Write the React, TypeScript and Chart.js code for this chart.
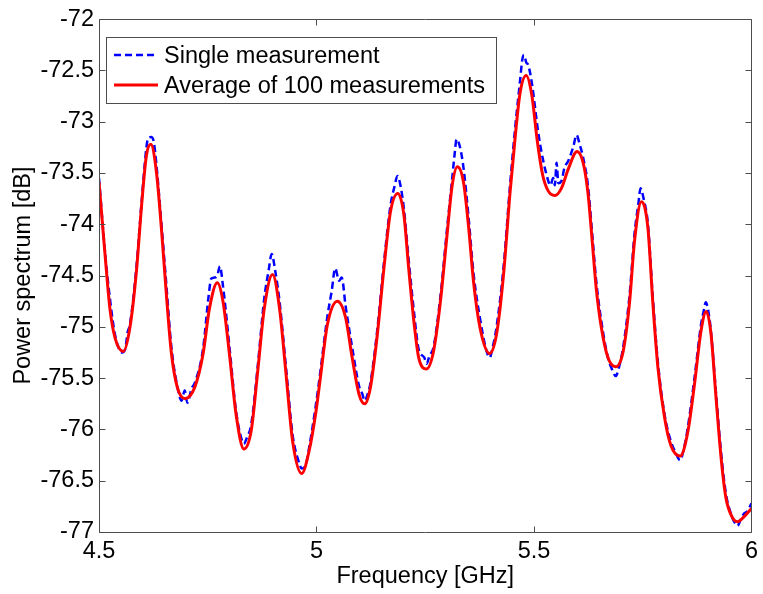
import React, { useEffect, useRef } from "react";
import { Chart, registerables } from "chart.js";

Chart.register(...registerables);

// Average of 100 measurements (red)
const avgFreq = [
  4.5, 4.514, 4.525, 4.537, 4.556, 4.571, 4.586, 4.598, 4.609, 4.619, 4.632, 4.644, 4.655, 4.666, 4.68,
  4.698, 4.72, 4.739, 4.754, 4.772, 4.785, 4.8, 4.815, 4.833, 4.85, 4.865, 4.88, 4.899, 4.915, 4.93,
  4.945, 4.966, 4.983, 4.999, 5.01, 5.025, 5.048, 5.067, 5.082, 5.098, 5.111, 5.124, 5.14, 5.155, 5.17,
  5.187, 5.201, 5.212, 5.224, 5.235, 5.253, 5.269, 5.285, 5.3, 5.312, 5.324, 5.338, 5.35, 5.361, 5.376,
  5.398, 5.414, 5.43, 5.445, 5.457, 5.468, 5.482, 5.495, 5.508, 5.52, 5.532, 5.548, 5.563, 5.579, 5.599,
  5.613, 5.624, 5.634, 5.643, 5.655, 5.67, 5.688, 5.705, 5.72, 5.731, 5.747, 5.762, 5.773, 5.785, 5.8,
  5.815, 5.836, 5.853, 5.869, 5.884, 5.896, 5.907, 5.918, 5.93, 5.941, 5.955, 5.968, 5.983, 6.0,
];
const avgPower = [
  -73.59, -74.3, -74.82, -75.11, -75.24, -75.01, -74.46, -73.81, -73.33, -73.22, -73.49, -74.07, -74.69, -75.24, -75.59,
  -75.7, -75.59, -75.27, -74.82, -74.57, -74.75, -75.27, -75.85, -76.19, -76.01, -75.43, -74.82, -74.49, -74.82, -75.46,
  -76.11, -76.43, -76.21, -75.82, -75.46, -74.98, -74.75, -74.91, -75.3, -75.66, -75.75, -75.59, -75.07, -74.43, -73.88,
  -73.7, -73.91, -74.43, -74.95, -75.3, -75.41, -75.24, -74.75, -74.11, -73.62, -73.44, -73.59, -74.04, -74.56, -75.01,
  -75.26, -75.07, -74.49, -73.69, -73.14, -72.72, -72.55, -72.74, -73.2, -73.52, -73.67, -73.72, -73.65, -73.46, -73.29,
  -73.4, -73.69, -74.17, -74.62, -75.01, -75.3, -75.39, -75.24, -74.75, -74.17, -73.78, -74.04, -74.75, -75.4, -75.88,
  -76.16, -76.26, -76.04, -75.56, -75.04, -74.85, -75.07, -75.66, -76.27, -76.66, -76.85, -76.9, -76.85, -76.77,
];

// Single measurement (blue, dashed)
const singleFreq = [
  4.5, 4.514, 4.525, 4.537, 4.553, 4.56, 4.566, 4.571, 4.586, 4.598, 4.609, 4.613, 4.62, 4.626, 4.632,
  4.644, 4.655, 4.666, 4.68, 4.69, 4.697, 4.703, 4.713, 4.72, 4.739, 4.752, 4.758, 4.765, 4.772, 4.778,
  4.785, 4.8, 4.815, 4.828, 4.833, 4.84, 4.85, 4.865, 4.88, 4.89, 4.897, 4.905, 4.915, 4.93, 4.945,
  4.958, 4.966, 4.975, 4.983, 4.999, 5.01, 5.025, 5.035, 5.043, 5.052, 5.058, 5.067, 5.082, 5.098, 5.105,
  5.111, 5.118, 5.124, 5.14, 5.155, 5.17, 5.18, 5.186, 5.193, 5.201, 5.212, 5.224, 5.235, 5.248, 5.253,
  5.26, 5.269, 5.285, 5.3, 5.312, 5.318, 5.322, 5.33, 5.338, 5.35, 5.361, 5.376, 5.39, 5.398, 5.405,
  5.414, 5.43, 5.445, 5.457, 5.468, 5.473, 5.477, 5.482, 5.487, 5.495, 5.508, 5.514, 5.529, 5.538, 5.544,
  5.548, 5.552, 5.556, 5.563, 5.57, 5.579, 5.59, 5.598, 5.605, 5.613, 5.624, 5.634, 5.643, 5.655, 5.67,
  5.68, 5.688, 5.695, 5.705, 5.72, 5.731, 5.74, 5.745, 5.752, 5.762, 5.773, 5.785, 5.8, 5.815, 5.825,
  5.836, 5.845, 5.853, 5.869, 5.884, 5.89, 5.895, 5.902, 5.907, 5.918, 5.93, 5.941, 5.955, 5.963, 5.968,
  5.975, 5.983, 5.99, 6.0,
];
const singlePower = [
  -73.55, -74.28, -74.72, -75.08, -75.25, -75.22, -75.05, -74.98, -74.42, -73.78, -73.25, -73.16, -73.15, -73.2, -73.42,
  -74.02, -74.6, -75.18, -75.58, -75.72, -75.62, -75.74, -75.6, -75.55, -75.22, -74.7, -74.53, -74.52, -74.5, -74.41,
  -74.6, -75.2, -75.82, -76.1, -76.14, -76.08, -75.95, -75.38, -74.72, -74.45, -74.29, -74.45, -74.75, -75.4, -76.05,
  -76.3, -76.38, -76.35, -76.18, -75.75, -75.4, -74.9, -74.65, -74.43, -74.55, -74.52, -74.8, -75.2, -75.58, -75.65,
  -75.72, -75.65, -75.55, -75.02, -74.38, -73.82, -73.62, -73.53, -73.62, -73.85, -74.35, -74.85, -75.22, -75.3, -75.36,
  -75.28, -75.2, -74.7, -74.05, -73.55, -73.3, -73.17, -73.25, -73.45, -73.95, -74.48, -74.92, -75.22, -75.3, -75.2,
  -75.0, -74.42, -73.62, -73.05, -72.6, -72.4, -72.35, -72.42, -72.45, -72.62, -73.05, -73.22, -73.52, -73.62, -73.55,
  -73.62, -73.4, -73.6, -73.58, -73.45, -73.38, -73.25, -73.13, -73.22, -73.35, -73.62, -74.1, -74.55, -74.95, -75.3,
  -75.42, -75.48, -75.4, -75.2, -74.68, -74.1, -73.8, -73.65, -73.75, -74.0, -74.7, -75.35, -75.85, -76.12, -76.22,
  -76.3, -76.18, -76.0, -75.5, -74.98, -74.85, -74.76, -74.88, -75.05, -75.62, -76.22, -76.62, -76.85, -76.92, -76.94,
  -76.88, -76.82, -76.8, -76.72,
];

const xTicks = [4.5, 5, 5.5, 6];
const yTicks = [-72, -72.5, -73, -73.5, -74, -74.5, -75, -75.5, -76, -76.5, -77];

const FONT = "'Liberation Sans', Arial, sans-serif";
const FONT_SIZE = 23.5;

const framePlugin = {
  id: "matlabFrame",
  afterDatasetsDraw(chart: any) {
    const { ctx, chartArea } = chart;
    const { left, right, top, bottom } = chartArea;
    const xs = chart.scales.x;
    const ys = chart.scales.y;
    ctx.save();
    ctx.strokeStyle = "#4d4d4d";
    ctx.lineWidth = 1;
    ctx.beginPath();
    const L = Math.round(left) + 0.5;
    const R = Math.round(right) + 0.5;
    const T = Math.round(top) + 0.5;
    const B = Math.round(bottom) + 0.5;
    ctx.rect(L, T, R - L, B - T);
    const tl = 6;
    for (const v of xTicks) {
      const px = Math.round(xs.getPixelForValue(v)) + 0.5;
      ctx.moveTo(px, B);
      ctx.lineTo(px, B - tl);
      ctx.moveTo(px, T);
      ctx.lineTo(px, T + tl);
    }
    for (const v of yTicks) {
      const py = Math.round(ys.getPixelForValue(v)) + 0.5;
      ctx.moveTo(L, py);
      ctx.lineTo(L + tl, py);
      ctx.moveTo(R, py);
      ctx.lineTo(R - tl, py);
    }
    ctx.stroke();
    ctx.restore();
  },
  afterDraw(chart: any) {
    const { ctx, chartArea } = chart;
    const bx = chartArea.left + 7;
    const by = chartArea.top + 18;
    const bw = 390;
    const bh = 66;
    ctx.save();
    ctx.fillStyle = "#ffffff";
    ctx.fillRect(bx, by, bw, bh);
    ctx.strokeStyle = "#4d4d4d";
    ctx.lineWidth = 1;
    ctx.strokeRect(Math.round(bx) + 0.5, Math.round(by) + 0.5, bw, bh);
    const order = [0, 1];
    const rowsY = [by + 18, by + 48];
    order.forEach((di, i) => {
      const ds = chart.data.datasets[di];
      const y = rowsY[i];
      ctx.beginPath();
      ctx.strokeStyle = ds.borderColor;
      ctx.lineWidth = ds.borderWidth;
      ctx.setLineDash(ds.borderDash || []);
      ctx.moveTo(bx + 8, y);
      ctx.lineTo(bx + 52, y);
      ctx.stroke();
      ctx.setLineDash([]);
      ctx.fillStyle = "#000000";
      ctx.font = `${FONT_SIZE}px ${FONT}`;
      ctx.textBaseline = "middle";
      ctx.textAlign = "left";
      ctx.fillText(ds.label, bx + 58, y + 1);
    });
    ctx.restore();
  },
};

export default function App() {
  const canvasRef = useRef<HTMLCanvasElement | null>(null);

  useEffect(() => {
    document.body.style.margin = "0";
    document.body.style.overflow = "hidden";
    const canvas = canvasRef.current;
    if (!canvas) return;
    const chart = new Chart(canvas, {
      type: "line",
      data: {
        datasets: [
          {
            label: "Single measurement",
            data: singleFreq.map((f, i) => ({ x: f, y: singlePower[i] })),
            borderColor: "#0000ff",
            borderWidth: 2.5,
            borderDash: [7, 4],
            pointRadius: 0,
            cubicInterpolationMode: "monotone",
            fill: false,
            order: 1,
          },
          {
            label: "Average of 100 measurements",
            data: avgFreq.map((f, i) => ({ x: f, y: avgPower[i] })),
            borderColor: "#ff0000",
            borderWidth: 3,
            pointRadius: 0,
            cubicInterpolationMode: "monotone",
            fill: false,
            order: 0,
          },
        ],
      },
      options: {
        responsive: false,
        animation: false,
        layout: { padding: { top: 16, right: 9, left: 0, bottom: 0 } },
        plugins: { legend: { display: false }, tooltip: { enabled: false } },
        scales: {
          x: {
            type: "linear",
            min: 4.5,
            max: 6,
            afterBuildTicks: (scale: any) => {
              scale.ticks = xTicks.map((v) => ({ value: v }));
            },
            afterFit: (scale: any) => {
              scale.height = 62;
            },
            grid: { display: false, drawTicks: false },
            border: { display: false },
            ticks: {
              autoSkip: false,
              maxRotation: 0,
              padding: 5,
              color: "#000000",
              font: { family: FONT, size: FONT_SIZE },
              callback: (v: any) => String(v),
            },
            title: {
              display: true,
              text: "Frequency [GHz]",
              color: "#000000",
              font: { family: FONT, size: FONT_SIZE },
              padding: { top: 0, bottom: 3 },
            },
          },
          y: {
            type: "linear",
            min: -77,
            max: -72,
            afterBuildTicks: (scale: any) => {
              scale.ticks = yTicks.map((v) => ({ value: v }));
            },
            afterFit: (scale: any) => {
              scale.width = 99;
            },
            grid: { display: false, drawTicks: false },
            border: { display: false },
            ticks: {
              autoSkip: false,
              padding: 5,
              color: "#000000",
              font: { family: FONT, size: FONT_SIZE },
              callback: (v: any) => String(v),
            },
            title: {
              display: true,
              text: "Power spectrum [dB]",
              color: "#000000",
              font: { family: FONT, size: FONT_SIZE },
              padding: { top: 9, bottom: 0 },
            },
          },
        },
      },
      plugins: [framePlugin],
    } as any);
    return () => chart.destroy();
  }, []);

  return (
    <div style={{ width: 763, height: 594 }}>
      <canvas ref={canvasRef} width={763} height={594} style={{ display: "block" }} />
    </div>
  );
}
